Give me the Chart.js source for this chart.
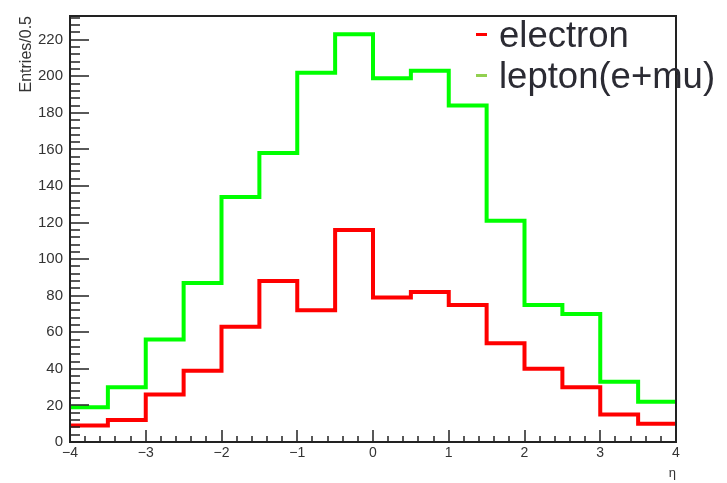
<!DOCTYPE html>
<html>
<head>
<meta charset="utf-8">
<title>eta</title>
<script src="https://cdn.jsdelivr.net/npm/chart.js@4.4.1/dist/chart.umd.min.js"></script>
<style>
  html, body { margin: 0; padding: 0; background: #fff; }
  #wrap { position: relative; width: 727px; height: 483px; overflow: hidden; }
  #chart { display: block; }
  #legend {
    position: absolute; left: 476px; top: 14px;
    font-family: "Liberation Sans", Arial, sans-serif; font-size: 36.5px; color: #2b2b33;
  }
  .row { position: relative; height: 41px; line-height: 41px; padding-left: 23px; white-space: nowrap; }
  .mark { position: absolute; left: 0; top: 19px; width: 11px; height: 3px; }
</style>
</head>
<body>
<div id="wrap">
  <canvas id="chart" width="727" height="483"></canvas>
  <div id="legend"></div>
</div>
<script>
// bin edges of the eta histogram (width 0.5)
const binEdges = [-4, -3.5, -3, -2.5, -2, -1.5, -1, -0.5, 0, 0.5, 1, 1.5, 2, 2.5, 3, 3.5, 4];

// entries per bin
const electron = [9, 12, 26, 39, 63, 88, 72, 116, 79, 82, 75, 54, 40, 30, 15, 10];
const lepton = [19, 30, 56, 87, 134, 158, 202, 223, 199, 203, 184, 121, 75, 70, 33, 22];

const seriesNames = ["electron", "lepton(e+mu)"];
const lineColors = ["#ff0000", "#00ff00"];
const legendMarks = ["#ff0000", "#92d050"];

const xRange = [-4, 4];
const yRange = [0, 233];
const xMinorDiv = 5;
const yMinorDiv = 5;

const FONT = "'Liberation Sans', Arial, sans-serif";
const AXIS = "#222";

function histPoints(values) {
  // one point per low edge, plus the last edge to close the final bin
  return binEdges.map((x, i) => ({ x, y: values[Math.min(i, values.length - 1)] }));
}

// ROOT-like frame with inner major/minor ticks
const rootFrame = {
  id: "rootFrame",
  afterDraw(chart) {
    const { ctx, chartArea: a, scales } = chart;
    const x = scales.x;
    const y = scales.y;
    ctx.save();
    ctx.strokeStyle = AXIS;
    ctx.lineWidth = 1.5;
    ctx.beginPath();

    const xs = x.ticks.map((t) => t.value);
    xs.forEach((v, i) => {
      const px = Math.round(x.getPixelForValue(v));
      ctx.moveTo(px, a.bottom);
      ctx.lineTo(px, a.bottom - 12);
      if (i < xs.length - 1) {
        for (let k = 1; k < xMinorDiv; k++) {
          const m = Math.round(x.getPixelForValue(v + ((xs[i + 1] - v) * k) / xMinorDiv));
          ctx.moveTo(m, a.bottom);
          ctx.lineTo(m, a.bottom - 6);
        }
      }
    });

    const ys = y.ticks.map((t) => t.value);
    const step = ys[1] - ys[0];
    ys.forEach((v) => {
      const py = Math.round(y.getPixelForValue(v));
      ctx.moveTo(a.left, py);
      ctx.lineTo(a.left + 19, py);
      for (let k = 1; k < yMinorDiv; k++) {
        const mv = v + (step * k) / yMinorDiv;
        if (mv > y.max) break;
        const m = Math.round(y.getPixelForValue(mv));
        ctx.moveTo(a.left, m);
        ctx.lineTo(a.left + 10, m);
      }
    });
    ctx.stroke();

    ctx.lineWidth = 2;
    ctx.strokeRect(a.left, a.top, a.right - a.left, a.bottom - a.top);
    ctx.restore();
  },
};

const chart = new Chart(document.getElementById("chart"), {
  type: "line",
  data: {
    datasets: [
      { label: seriesNames[0], data: histPoints(electron), borderColor: lineColors[0] },
      { label: seriesNames[1], data: histPoints(lepton), borderColor: lineColors[1] },
    ].map((d) => ({
      ...d,
      stepped: true,
      borderWidth: 4,
      pointRadius: 0,
      fill: false,
      borderCapStyle: "butt",
      borderJoinStyle: "miter",
    })),
  },
  options: {
    responsive: false,
    animation: false,
    layout: { padding: { top: 7, right: 51, left: 0, bottom: 0 } },
    plugins: { legend: { display: false }, tooltip: { enabled: false } },
    scales: {
      x: {
        type: "linear",
        min: xRange[0],
        max: xRange[1],
        grid: { display: false, drawTicks: false },
        border: { display: false },
        ticks: {
          stepSize: 1,
          padding: 3,
          color: "#333",
          font: { family: FONT, size: 14 },
          callback: (v) => (v < 0 ? "\u2212" + -v : String(v)),
        },
        title: {
          display: true,
          text: "\u03b7",
          align: "end",
          color: "#333",
          font: { family: FONT, size: 13 },
          padding: { top: 0, bottom: 2 },
        },
        afterFit: (s) => { s.height = 41; },
      },
      y: {
        min: yRange[0],
        max: yRange[1],
        grid: { display: false, drawTicks: false },
        border: { display: false },
        ticks: {
          stepSize: 20,
          includeBounds: false,
          padding: 7,
          color: "#333",
          font: { family: FONT, size: 15 },
        },
        title: {
          display: true,
          text: "Entries/0.5",
          align: "end",
          color: "#333",
          font: { family: FONT, size: 16 },
          padding: { top: 17, bottom: 0 },
        },
        afterFit: (s) => { s.width = 70; },
      },
    },
  },
  plugins: [rootFrame],
});

// legend as html text over the plot
const legendEl = document.getElementById("legend");
chart.data.datasets.forEach((ds, i) => {
  const row = document.createElement("div");
  row.className = "row";
  const mark = document.createElement("span");
  mark.className = "mark";
  mark.style.background = legendMarks[i];
  row.appendChild(mark);
  row.appendChild(document.createTextNode(ds.label));
  legendEl.appendChild(row);
});
</script>
</body>
</html>
